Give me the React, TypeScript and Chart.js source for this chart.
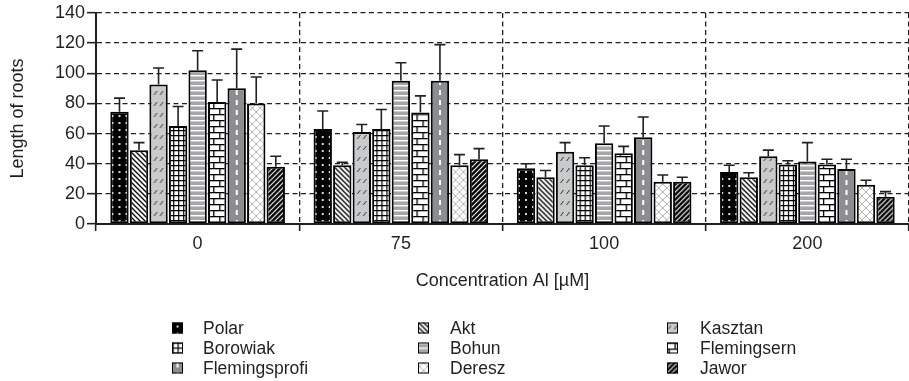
import { useEffect, useRef } from 'react';
import { Chart, registerables } from 'chart.js';

Chart.register(...registerables);

// ---------------- data ----------------
const categories = ['0', '75', '100', '200'];
const seriesNames = ['Polar', 'Akt', 'Kasztan', 'Borowiak', 'Bohun', 'Flemingsern', 'Flemingsprofi', 'Deresz', 'Jawor'];

const polar = [74.5, 63, 37, 34.5];
const akt = [49, 39, 31, 31];
const kasztan = [92.5, 61, 48, 45];
const borowiak = [65, 63, 39, 39.5];
const bohun = [102, 95, 53.5, 41.5];
const flemingsern = [81, 74, 47, 39.5];
const flemingsprofi = [90, 95, 57.5, 36.5];
const deresz = [80, 39, 28, 26];
const jawor = [38, 43, 28, 18];

const polarErr = [9, 12, 3, 4.5];
const aktErr = [5, 2, 4.5, 3];
const kasztanErr = [11, 5, 6, 4];
const borowiakErr = [13, 13, 5, 2.5];
const bohunErr = [13, 12, 11.5, 12.5];
const flemingsernErr = [14.5, 11, 4.5, 3.5];
const flemingsprofiErr = [26, 24, 13.5, 6.5];
const dereszErr = [17.5, 7, 4.5, 3];
const jaworErr = [7, 7, 3, 3.5];

const yTicks = [0, 20, 40, 60, 80, 100, 120, 140];

const seriesValues = [polar, akt, kasztan, borowiak, bohun, flemingsern, flemingsprofi, deresz, jawor];
const seriesErrors = [polarErr, aktErr, kasztanErr, borowiakErr, bohunErr, flemingsernErr, flemingsprofiErr, dereszErr, jaworErr];

// ---------------- styles ----------------
const FONT = "'Liberation Sans', Arial, Helvetica, sans-serif";
const TEXT = '#231f20';
const CAT_PCT = 0.865;
const BAR_PCT = 0.94;

type Tile = { w: number; h: number; draw: (c: CanvasRenderingContext2D) => void };

const tiles: Tile[] = [
  // Polar: black with white dots
  { w: 7, h: 7, draw: (c) => { c.fillStyle = '#000'; c.fillRect(0, 0, 7, 7); c.fillStyle = '#d8d8d8'; c.fillRect(-1, 3, 2, 2); c.fillRect(6, 3, 2, 2); } },
  // Akt: white with \ hatch
  { w: 5, h: 5, draw: (c) => { c.fillStyle = '#fff'; c.fillRect(0, 0, 5, 5); c.strokeStyle = '#000'; c.lineWidth = 1.3; c.beginPath(); c.moveTo(-1, -1); c.lineTo(6, 6); c.moveTo(-1, 4); c.lineTo(1, 6); c.moveTo(4, -1); c.lineTo(6, 1); c.stroke(); } },
  // Kasztan: light gray with short slashes
  { w: 6, h: 11, draw: (c) => { c.fillStyle = '#c9cacc'; c.fillRect(0, 0, 6, 11); c.strokeStyle = '#333'; c.lineWidth = 1; c.beginPath(); c.moveTo(1.5, 7); c.lineTo(4.5, 3); c.stroke(); } },
  // Borowiak: white grid
  { w: 5, h: 5, draw: (c) => { c.fillStyle = '#fff'; c.fillRect(0, 0, 5, 5); c.fillStyle = '#000'; c.fillRect(0, 0, 5, 1.2); c.fillRect(0, 0, 1.2, 5); } },
  // Bohun: gray with white horizontal lines
  { w: 4, h: 5, draw: (c) => { c.fillStyle = '#a4a6a9'; c.fillRect(0, 0, 4, 5); c.fillStyle = '#fff'; c.fillRect(0, 0, 4, 1.4); } },
  // Flemingsern: brick
  { w: 12, h: 12, draw: (c) => { c.fillStyle = '#fff'; c.fillRect(0, 0, 12, 12); c.fillStyle = '#000'; c.fillRect(0, 0, 12, 1.3); c.fillRect(0, 6, 12, 1.3); c.fillRect(2, 0, 1.3, 6); c.fillRect(8, 6, 1.3, 6); } },
  // Flemingsprofi: dark gray with white vertical dashes
  { w: 40, h: 10, draw: (c) => { c.fillStyle = '#8b8d91'; c.fillRect(0, 0, 40, 10); c.fillStyle = '#fff'; c.fillRect(0, 0, 1, 5); c.fillRect(39, 0, 1, 5); } },
  // Deresz: white with gray crosshatch
  { w: 8, h: 8, draw: (c) => { c.fillStyle = '#fff'; c.fillRect(0, 0, 8, 8); c.strokeStyle = '#b3b3b3'; c.lineWidth = 1; c.beginPath(); c.moveTo(0, 0); c.lineTo(8, 8); c.moveTo(0, 8); c.lineTo(8, 0); c.stroke(); } },
  // Jawor: black with white / lines
  { w: 5, h: 5, draw: (c) => { c.fillStyle = '#000'; c.fillRect(0, 0, 5, 5); c.strokeStyle = '#fff'; c.lineWidth = 1.1; c.beginPath(); c.moveTo(-1, 6); c.lineTo(6, -1); c.moveTo(-1, 1); c.lineTo(1, -1); c.moveTo(4, 6); c.lineTo(6, 4); c.stroke(); } },
];

const tileCanvases: (HTMLCanvasElement | null)[] = tiles.map(() => null);
function getTile(i: number): HTMLCanvasElement {
  let t = tileCanvases[i];
  if (!t) {
    t = document.createElement('canvas');
    t.width = tiles[i].w;
    t.height = tiles[i].h;
    tiles[i].draw(t.getContext('2d')!);
    tileCanvases[i] = t;
  }
  return t;
}
function makePattern(ctx: CanvasRenderingContext2D, i: number, ox: number, oy: number): CanvasPattern | string {
  const p = ctx.createPattern(getTile(i), 'repeat');
  if (!p) return '#888';
  try { p.setTransform(new DOMMatrix().translate(ox, oy)); } catch (e) { /* ignore */ }
  return p;
}

const legendCols = [172, 418, 667];
const legendTextX = [203, 450, 700];
const legendRows = [328, 348, 368];

const errorBarPlugin = {
  id: 'errorBars',
  afterDatasetsDraw(chart: any) {
    const ctx = chart.ctx as CanvasRenderingContext2D;
    const ys = chart.scales.y;
    ctx.save();
    ctx.strokeStyle = '#231f20';
    ctx.lineWidth = 1.6;
    chart.data.datasets.forEach((_ds: any, di: number) => {
      const meta = chart.getDatasetMeta(di);
      meta.data.forEach((bar: any, i: number) => {
        const v = seriesValues[di][i];
        const e = seriesErrors[di][i];
        const yE = ys.getPixelForValue(v + e);
        ctx.beginPath();
        ctx.moveTo(bar.x, bar.y);
        ctx.lineTo(bar.x, yE);
        ctx.moveTo(bar.x - 5.5, yE);
        ctx.lineTo(bar.x + 5.5, yE);
        ctx.stroke();
      });
    });
    ctx.restore();
  },
};

const legendPlugin = {
  id: 'gridLegend',
  afterDraw(chart: any) {
    const ctx = chart.ctx as CanvasRenderingContext2D;
    ctx.save();
    ctx.font = `17.5px ${FONT}`;
    ctx.textBaseline = 'middle';
    ctx.textAlign = 'left';
    seriesNames.forEach((name, i) => {
      const col = i % 3;
      const row = Math.floor(i / 3);
      const x = legendCols[col];
      const y = legendRows[row];
      ctx.fillStyle = makePattern(ctx, i, x + 5.5, y - 5.5) as any;
      ctx.fillRect(x, y - 5.5, 11, 11);
      ctx.strokeStyle = '#000';
      ctx.lineWidth = 1;
      ctx.strokeRect(x + 0.5, y - 5, 10, 10);
      ctx.fillStyle = TEXT;
      ctx.fillText(name, legendTextX[col], y + 1);
    });
    ctx.restore();
  },
};

export default function App() {
  const ref = useRef<HTMLCanvasElement | null>(null);

  useEffect(() => {
    if (!ref.current) return;
    const n = seriesNames.length;
    const datasets = seriesNames.map((name, si) => ({
      label: name,
      data: seriesValues[si],
      backgroundColor: (c: any) => {
        if (c.type !== 'data') return '#999';
        const xs = c.chart.scales.x;
        if (!xs) return '#999';
        const catW = xs.width / categories.length;
        const slot = (catW * CAT_PCT) / n;
        const cx = xs.getPixelForValue(c.dataIndex) + slot * (si - (n - 1) / 2);
        return makePattern(c.chart.ctx, si, cx, 0);
      },
      borderColor: '#000',
      borderWidth: 2,
      borderSkipped: false,
      categoryPercentage: CAT_PCT,
      barPercentage: BAR_PCT,
    }));

    const chart = new Chart(ref.current, {
      type: 'bar',
      data: { labels: categories, datasets },
      options: {
        responsive: false,
        animation: false,
        devicePixelRatio: 1,
        layout: { padding: { top: 13, left: 0, right: -2, bottom: 81 } },
        plugins: { legend: { display: false }, tooltip: { enabled: false } },
        scales: {
          x: {
            offset: true,
            grid: {
              offset: true,
              color: '#231f20',
              lineWidth: 1.3,
              drawTicks: true,
              tickLength: 7,
              tickBorderDash: [],
              tickColor: '#231f20',
              tickWidth: 1.6,
            },
            border: { display: true, color: '#231f20', width: 2, dash: [5, 3.5] },
            ticks: { color: TEXT, font: { family: FONT, size: 18 }, padding: 2 },
            title: {
              display: true,
              text: 'Concentration Al [µM]',
              color: TEXT,
              font: { family: FONT, size: 18 },
              padding: { top: 0, bottom: 8 },
            },
            afterFit: (s: any) => { s.height = 76; },
          },
          y: {
            min: 0,
            max: 140,
            afterBuildTicks: (s: any) => { s.ticks = yTicks.map((v) => ({ value: v })); },
            grid: {
              color: '#231f20',
              lineWidth: 1.3,
              drawTicks: true,
              tickLength: 9,
              tickBorderDash: [],
              tickColor: '#231f20',
              tickWidth: 1.6,
            },
            border: { display: true, color: '#231f20', width: 2, dash: [5, 3.5] },
            ticks: { color: TEXT, font: { family: FONT, size: 18 }, padding: 2 },
            title: {
              display: true,
              text: 'Length of roots',
              color: TEXT,
              font: { family: FONT, size: 18 },
              padding: { top: 7.5, bottom: 0 },
            },
            afterFit: (s: any) => { s.width = 96; },
          },
        },
      },
      plugins: [errorBarPlugin, legendPlugin],
    } as any);
    return () => chart.destroy();
  }, []);

  return (
    <div style={{ position: 'absolute', left: 0, top: 0, width: 909, height: 381, background: '#fff' }}>
      <canvas ref={ref} width={909} height={381} style={{ display: 'block', width: 909, height: 381 }} />
    </div>
  );
}
